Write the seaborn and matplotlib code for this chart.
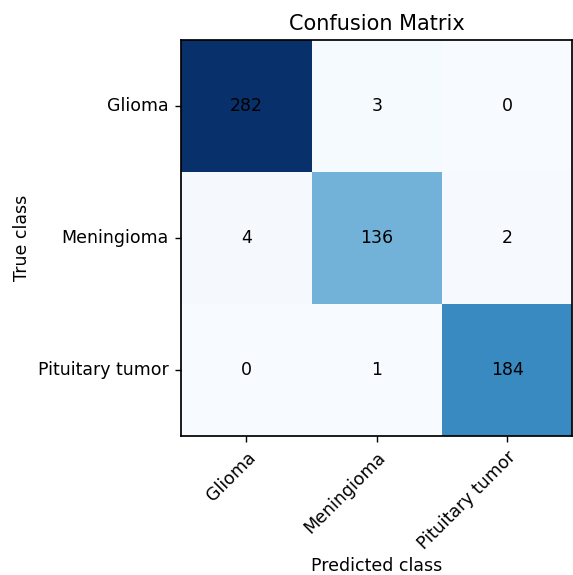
import numpy as np
import pandas as pd
import matplotlib
matplotlib.use("Agg")
import matplotlib.pyplot as plt
import seaborn as sns

classes = ["Glioma", "Meningioma", "Pituitary tumor"]
cm = np.array([[282, 3, 0],
               [4, 136, 2],
               [0, 1, 184]])

df = pd.DataFrame(cm, index=classes, columns=classes)

fig = plt.figure(figsize=(5.73, 5.75), dpi=100)
ax = fig.add_axes([0.316, 0.242, 0.683, 0.688])
sns.heatmap(df, cmap="Blues", annot=True, fmt="d", cbar=False,
            annot_kws={"color": "black", "fontsize": 12.5}, ax=ax)

for s in ax.spines.values():
    s.set_visible(True)
    s.set_color("black")
    s.set_linewidth(1.25)

ax.set_title("Confusion Matrix", fontsize=15, pad=7.5)
ax.set_xlabel("Predicted class", fontsize=12.5, labelpad=3)
ax.set_ylabel("True class", fontsize=12.5, labelpad=5)
plt.setp(ax.get_xticklabels(), rotation=45, ha="right", rotation_mode="anchor", fontsize=12.5)
plt.setp(ax.get_yticklabels(), rotation=0, fontsize=12.5)
ax.tick_params(length=4.4, width=1.0, pad=4.4)

fig.savefig("out.png", dpi=100)
